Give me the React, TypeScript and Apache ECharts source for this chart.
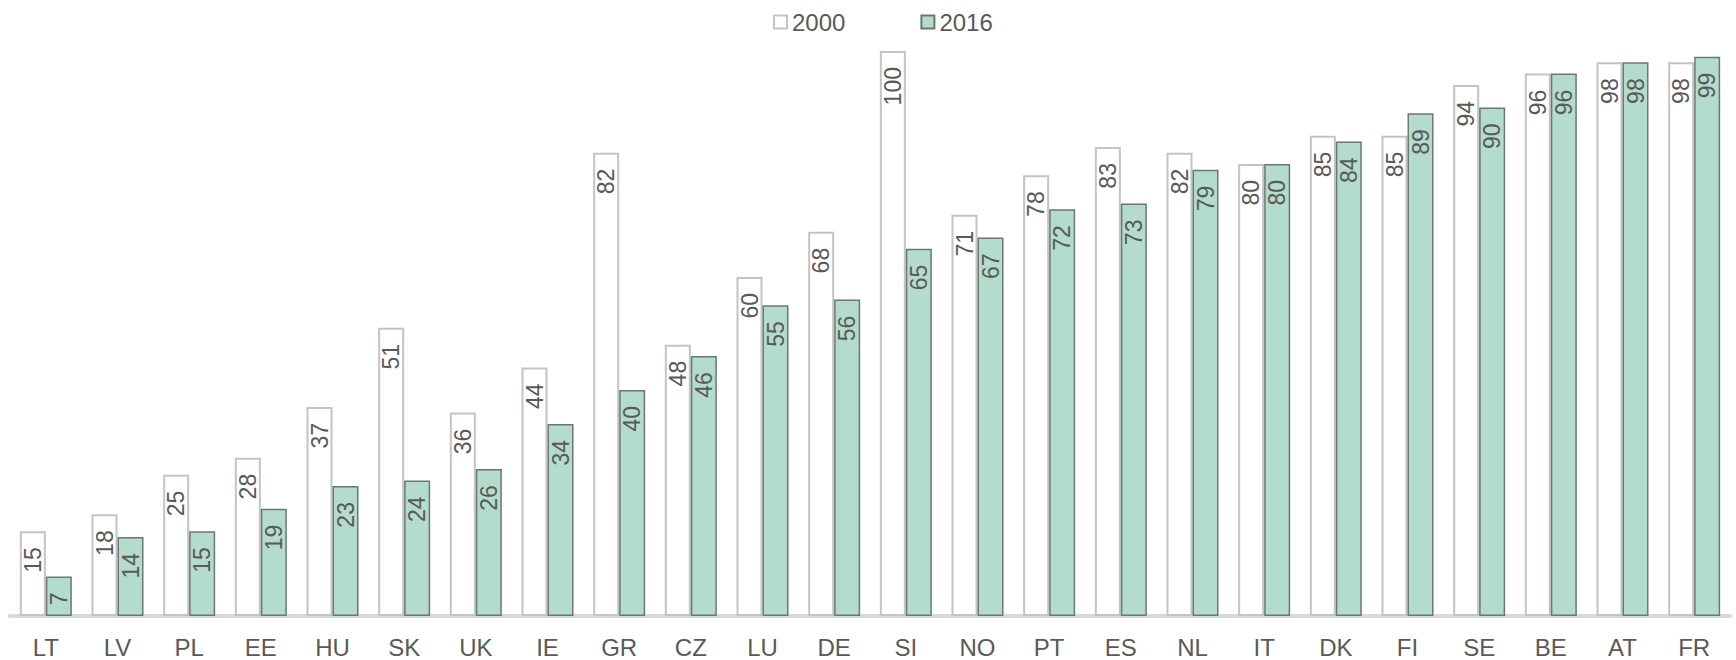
import React, { useEffect, useRef } from "react";
import * as echarts from "echarts";

const categories = ["LT", "LV", "PL", "EE", "HU", "SK", "UK", "IE", "GR", "CZ", "LU", "DE", "SI", "NO", "PT", "ES", "NL", "IT", "DK", "FI", "SE", "BE", "AT", "FR"];
const values2000 = [15, 18, 25, 28, 37, 51, 36, 44, 82, 48, 60, 68, 100, 71, 78, 83, 82, 80, 85, 85, 94, 96, 98, 98];
const values2016 = [7, 14, 15, 19, 23, 24, 26, 34, 40, 46, 55, 56, 65, 67, 72, 73, 79, 80, 84, 89, 90, 96, 98, 99];

const FONT = "'Liberation Sans', Arial, sans-serif";
const TEXT = "#595959";

export default function App() {
  const ref = useRef<HTMLDivElement>(null);
  useEffect(() => {
    if (!ref.current) return;
    const chart = echarts.init(ref.current, null, { renderer: "svg" });
    const label = {
      show: true,
      position: "insideTop" as const,
      rotate: 90,
      align: "right" as const,
      verticalAlign: "middle" as const,
      distance: 16,
      color: TEXT,
      fontSize: 23,
      fontFamily: FONT,
    };
    chart.setOption({
      animation: false,
      backgroundColor: "#ffffff",
      legend: {
        left: 768,
        top: 5,
        itemWidth: 13,
        itemHeight: 13,
        itemGap: 75,
        icon: "rect",
        textStyle: { color: TEXT, fontSize: 24, fontFamily: FONT, padding: [0, 0, 0, 0] },
        data: ["2000", "2016"],
      },
      grid: { left: 10, right: 6, top: 51, bottom: 44, containLabel: false },
      xAxis: {
        type: "category",
        data: categories,
        axisLine: { show: true, lineStyle: { color: "#d9d9d9", width: 4 } },
        axisTick: { show: false },
        axisLabel: { color: TEXT, fontSize: 24, fontFamily: FONT, margin: 19 },
      },
      yAxis: {
        type: "value",
        min: 0,
        max: 100,
        show: false,
        splitLine: { show: false },
      },
      series: [
        {
          name: "2000",
          type: "bar",
          data: values2000,
          barWidth: 26,
          barGap: "0%",
          itemStyle: { color: "#ffffff", borderColor: "#c4c4c4", borderWidth: 2 },
          label,
        },
        {
          name: "2016",
          type: "bar",
          data: values2016,
          barWidth: 26,
          itemStyle: { color: "#b3dccd", borderColor: "#6b7872", borderWidth: 1.5 },
          label,
        },
      ],
    });
    return () => chart.dispose();
  }, []);
  return <div ref={ref} style={{ position: "fixed", left: 0, top: 0, width: 1736, height: 660 }} />;
}
